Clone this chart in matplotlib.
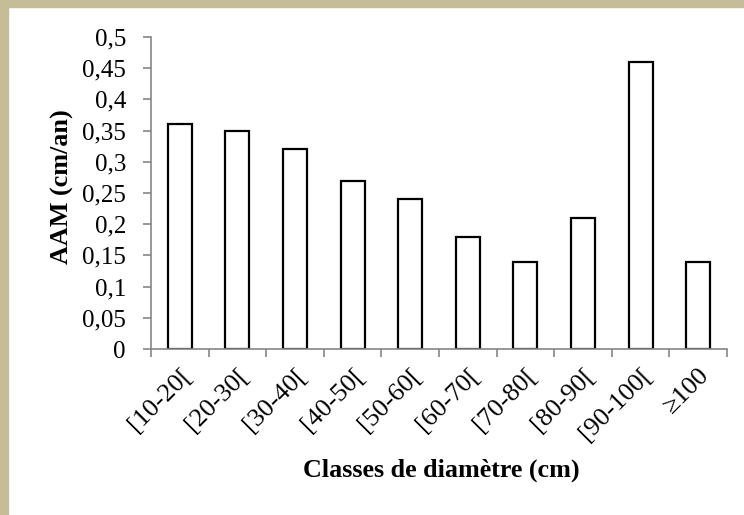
import matplotlib
matplotlib.use("Agg")
import matplotlib.pyplot as plt
from matplotlib.patches import Rectangle

# classes de diametre et accroissement annuel moyen
classes = ["[10-20[", "[20-30[", "[30-40[", "[40-50[", "[50-60[",
           "[60-70[", "[70-80[", "[80-90[", "[90-100[", "\u2265100"]
aam = [0.36, 0.35, 0.32, 0.27, 0.24, 0.18, 0.14, 0.21, 0.46, 0.14]
yticks = [0, 0.05, 0.1, 0.15, 0.2, 0.25, 0.3, 0.35, 0.4, 0.45, 0.5]
ytick_labels = ["0", "0,05", "0,1", "0,15", "0,2", "0,25", "0,3", "0,35", "0,4", "0,45", "0,5"]

plt.rcParams['font.family'] = ['Liberation Serif', 'DejaVu Serif']

W, H = 744, 515
fig = plt.figure(figsize=(W / 100, H / 100), dpi=100)
tan = "#C5BD98"
# cadre beige en haut et a gauche
fig.patches.append(Rectangle((0, 1 - 7 / H), 1, 7 / H, transform=fig.transFigure,
                             color=tan, zorder=0))
fig.patches.append(Rectangle((0, 0), 8 / W, 1, transform=fig.transFigure,
                             color=tan, zorder=0))

ax = fig.add_axes([151 / W, 1 - 349 / H, (727 - 151) / W, (349 - 37) / H])
x = list(range(len(classes)))
ax.bar(x, aam, width=0.42, facecolor="white", edgecolor="black", linewidth=1.6)

ax.set_xlim(-0.5, len(classes) - 0.5)
ax.set_ylim(0, 0.5)
ax.set_yticks(yticks)
ax.set_yticklabels(ytick_labels, fontsize=18)

# ticks entre les categories
ax.set_xticks([i - 0.5 for i in range(len(classes) + 1)])
ax.set_xticklabels([])
ax.set_xticks(x, minor=True)
ax.set_xticklabels(classes, minor=True, rotation=45, ha="right",
                   rotation_mode="anchor", fontsize=19)
ax.tick_params(axis="x", which="minor", length=0, pad=11)
ax.tick_params(axis="x", which="major", length=6, width=1.2, color="#868686", direction="out")
ax.tick_params(axis="y", length=6, width=1.2, color="#868686", pad=12)

for s in ["top", "right"]:
    ax.spines[s].set_visible(False)
for s in ["left", "bottom"]:
    ax.spines[s].set_color("#868686")
    ax.spines[s].set_linewidth(1.2)

fig.text(62 / W, 1 - 187 / H, "AAM (cm/an)", fontsize=18.8, fontweight="bold",
         rotation=90, ha="center", va="center")
fig.text(441 / W, 1 - 470 / H, "Classes de diam\u00e8tre (cm)", fontsize=18.8,
         fontweight="bold", ha="center", va="center")

plt.savefig("out.png", dpi=100)
